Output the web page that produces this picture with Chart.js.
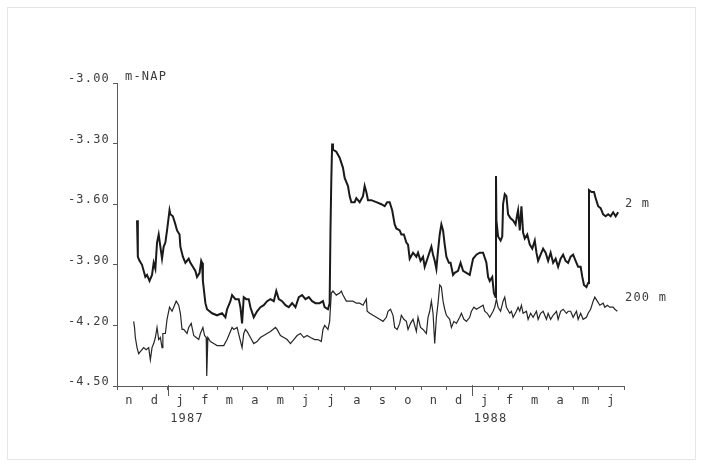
<!DOCTYPE html>
<html>
<head>
<meta charset="utf-8">
<script src="https://cdn.jsdelivr.net/npm/chart.js@4/dist/chart.umd.min.js"></script>
<style>
  html, body { margin: 0; padding: 0; background: #ffffff; }
  #wrap { position: relative; width: 705px; height: 469px; }
  #frame { position: absolute; left: 7px; top: 7px; width: 689px; height: 453px; border: 1px solid #e6e6e6; box-sizing: border-box; pointer-events: none; }
  canvas { position: absolute; left: 0; top: 0; }
</style>
</head>
<body>
<div id="wrap">
  <canvas id="c" width="705" height="469"></canvas>
  <div id="frame"></div>
</div>
<script>
// ---- data: day number counted from 1 Nov 1986, water level in m-NAP ----
const monthLabels = ['n','d','j','f','m','a','m','j','j','a','s','o','n','d','j','f','m','a','m','j'];
const monthStarts = [0,30,61,92,120,151,181,212,242,273,304,334,365,395,426,457,486,517,547,578,608];
const yearStarts = [61,426];
const yearLabels = ['1987','1988'];
const yearLabelDays = [84,448];
const yTicks = [-4.5,-4.2,-3.9,-3.6,-3.3,-3.0];
const unitLabel = 'm-NAP';
const seriesNames = ['2 m','200 m'];
const seriesLabelLevels = [-3.60,-4.065];

const days2m = [24,25,27,30,34,36,39,42,44,46,48,50,52,54,56,58,60,63,64,67,70,72,75,76,79,82,84,86,88,91,94,96,99,101,102,103,106,108,114,120,126,130,132,136,138,142,146,148,150,152,155,158,160,164,168,172,176,180,184,188,191,194,198,202,206,210,214,218,222,226,230,234,238,243,247,249,253,255,256,257,258,259,263,267,271,273,277,279,281,285,287,291,295,297,299,301,305,311,317,321,324,327,330,333,335,339,341,344,347,349,351,355,359,361,364,367,369,373,377,379,381,383,385,387,389,391,393,395,398,400,403,405,409,412,415,419,423,425,427,431,435,439,443,445,447,450,452,454,454.5,455,457,460,462,463,465,467,469,472,475,478,480,481,483,485,487,489,492,495,498,501,503,505,508,511,514,517,520,523,526,529,532,535,538,541,544,547,550,553,556,558,560,563,565,566,569,572,574,577,580,583,586,589,592,595,598,601];
const level2m = [-3.68,-3.86,-3.88,-3.90,-3.96,-3.95,-3.98,-3.95,-3.89,-3.92,-3.79,-3.75,-3.81,-3.87,-3.81,-3.79,-3.73,-3.63,-3.65,-3.66,-3.70,-3.73,-3.75,-3.81,-3.86,-3.89,-3.88,-3.87,-3.89,-3.91,-3.93,-3.96,-3.94,-3.88,-3.89,-3.98,-4.09,-4.12,-4.14,-4.15,-4.14,-4.16,-4.12,-4.08,-4.05,-4.07,-4.07,-4.11,-4.19,-4.06,-4.07,-4.07,-4.11,-4.16,-4.13,-4.11,-4.10,-4.08,-4.07,-4.08,-4.03,-4.07,-4.08,-4.10,-4.11,-4.09,-4.11,-4.06,-4.05,-4.07,-4.06,-4.08,-4.09,-4.09,-4.08,-4.11,-4.12,-4.09,-3.73,-3.48,-3.30,-3.33,-3.34,-3.37,-3.42,-3.47,-3.51,-3.56,-3.59,-3.59,-3.57,-3.59,-3.56,-3.51,-3.54,-3.58,-3.58,-3.59,-3.60,-3.61,-3.59,-3.59,-3.63,-3.70,-3.72,-3.73,-3.75,-3.75,-3.79,-3.80,-3.87,-3.84,-3.86,-3.84,-3.88,-3.86,-3.91,-3.86,-3.81,-3.85,-3.88,-3.92,-3.83,-3.75,-3.70,-3.73,-3.80,-3.86,-3.89,-3.89,-3.95,-3.94,-3.93,-3.89,-3.93,-3.94,-3.95,-3.91,-3.87,-3.85,-3.84,-3.84,-3.89,-3.96,-3.98,-3.96,-4.04,-4.06,-3.46,-3.68,-3.76,-3.78,-3.76,-3.60,-3.55,-3.56,-3.65,-3.67,-3.68,-3.70,-3.65,-3.63,-3.73,-3.61,-3.74,-3.77,-3.75,-3.80,-3.82,-3.78,-3.84,-3.88,-3.85,-3.82,-3.84,-3.88,-3.84,-3.89,-3.87,-3.91,-3.87,-3.85,-3.88,-3.89,-3.86,-3.85,-3.88,-3.91,-3.91,-3.96,-4.00,-4.01,-3.99,-3.53,-3.54,-3.54,-3.57,-3.61,-3.62,-3.65,-3.66,-3.65,-3.66,-3.64,-3.66,-3.64];

const days200m = [20,21,22,24,26,28,32,35,38,40,42,44,46,48,50,52,54,55,58,60,63,66,68,71,74,76,78,80,84,86,89,92,95,98,100,103,105,107,107.6,109,112,116,120,124,128,132,135,138,140,144,147,150,152,154,156,160,164,168,172,176,180,184,187,190,192,196,200,204,208,212,216,220,224,228,232,237,241,245,247,249,253,255,257,259,263,267,269,271,275,279,283,287,291,295,299,300,303,307,311,315,319,323,325,328,331,333,336,339,341,344,347,349,352,355,359,361,364,367,371,373,375,377,379,381,383,385,387,389,391,393,395,399,401,404,407,411,413,416,419,423,425,428,431,435,439,441,444,447,451,453,455,457,460,463,465,467,471,473,475,479,481,483,485,487,491,493,496,499,503,505,508,511,515,517,520,523,527,529,532,535,539,541,544,547,551,553,556,559,563,565,568,571,573,576,579,583,585,588,591,595,597,600];
const level200m = [-4.18,-4.21,-4.26,-4.31,-4.34,-4.33,-4.31,-4.32,-4.31,-4.37,-4.31,-4.29,-4.26,-4.21,-4.27,-4.26,-4.31,-4.24,-4.24,-4.17,-4.11,-4.13,-4.11,-4.08,-4.10,-4.14,-4.22,-4.22,-4.24,-4.21,-4.19,-4.25,-4.26,-4.27,-4.24,-4.21,-4.25,-4.26,-4.45,-4.26,-4.28,-4.29,-4.30,-4.30,-4.30,-4.27,-4.24,-4.21,-4.22,-4.21,-4.26,-4.31,-4.24,-4.22,-4.23,-4.26,-4.29,-4.28,-4.26,-4.25,-4.24,-4.23,-4.22,-4.21,-4.22,-4.25,-4.26,-4.27,-4.29,-4.27,-4.25,-4.24,-4.26,-4.25,-4.26,-4.27,-4.27,-4.28,-4.22,-4.20,-4.22,-4.18,-4.04,-4.03,-4.05,-4.04,-4.03,-4.05,-4.08,-4.08,-4.08,-4.09,-4.09,-4.10,-4.07,-4.13,-4.14,-4.15,-4.16,-4.17,-4.18,-4.16,-4.13,-4.12,-4.15,-4.21,-4.22,-4.19,-4.15,-4.17,-4.18,-4.22,-4.19,-4.17,-4.23,-4.16,-4.21,-4.22,-4.24,-4.16,-4.13,-4.08,-4.14,-4.29,-4.16,-4.09,-4.00,-4.01,-4.08,-4.12,-4.15,-4.17,-4.21,-4.18,-4.19,-4.16,-4.14,-4.17,-4.18,-4.16,-4.13,-4.11,-4.12,-4.11,-4.10,-4.13,-4.14,-4.16,-4.13,-4.11,-4.07,-4.11,-4.13,-4.08,-4.06,-4.11,-4.14,-4.13,-4.16,-4.13,-4.11,-4.13,-4.10,-4.14,-4.13,-4.17,-4.14,-4.16,-4.13,-4.17,-4.14,-4.13,-4.17,-4.14,-4.17,-4.15,-4.13,-4.17,-4.13,-4.12,-4.14,-4.13,-4.13,-4.16,-4.13,-4.17,-4.14,-4.17,-4.16,-4.14,-4.12,-4.08,-4.06,-4.08,-4.10,-4.09,-4.11,-4.10,-4.11,-4.11,-4.12,-4.13];

// ---- styles ----
const AXIS = '#5a5a5a';
const TEXT = '#3c3c3c';
const LINE = '#1a1a1a';
const FONT = { family: '"DejaVu Sans Mono", "Liberation Mono", monospace', size: 12 };
const SPACING = '1.2px';

const dayMin = monthStarts[0];
const dayMax = monthStarts[monthStarts.length - 1];
const monthMids = monthLabels.map((_, i) => (monthStarts[i] + monthStarts[i + 1]) / 2);

const spacingPlugin = {
  id: 'spacing',
  beforeLayout(chart) { chart.ctx.letterSpacing = SPACING; },
  beforeDraw(chart) { chart.ctx.letterSpacing = SPACING; }
};

const annotPlugin = {
  id: 'annot',
  afterDraw(chart) {
    const { ctx, scales: { x, y } } = chart;
    ctx.save();
    ctx.letterSpacing = SPACING;
    ctx.font = FONT.size + 'px ' + FONT.family;
    ctx.fillStyle = TEXT;
    ctx.textBaseline = 'middle';
    ctx.textAlign = 'left';
    ctx.fillText(unitLabel, x.left + 8, y.getPixelForValue(yTicks[yTicks.length - 1]) - 6);
    seriesNames.forEach((n, i) => ctx.fillText(n, x.right + 1, y.getPixelForValue(seriesLabelLevels[i])));
    ctx.strokeStyle = AXIS;
    ctx.lineWidth = 1;
    yearStarts.forEach(d => {
      const px = Math.round(x.getPixelForValue(d)) + 0.5;
      ctx.beginPath();
      ctx.moveTo(px, y.bottom - 1);
      ctx.lineTo(px, y.bottom + 10);
      ctx.stroke();
    });
    ctx.restore();
  }
};

const toPts = (d, v) => d.map((dd, i) => ({ x: dd, y: v[i] }));

new Chart(document.getElementById('c'), {
  type: 'line',
  data: {
    datasets: [
      { label: seriesNames[0], data: toPts(days2m, level2m), borderColor: LINE, borderWidth: 2, pointRadius: 0, tension: 0, fill: false },
      { label: seriesNames[1], data: toPts(days200m, level200m), borderColor: '#262626', borderWidth: 1.2, pointRadius: 0, tension: 0, fill: false }
    ]
  },
  options: {
    responsive: false,
    animation: false,
    events: [],
    layout: { padding: { top: 83, right: 81, left: 0, bottom: 41 } },
    plugins: { legend: { display: false }, tooltip: { enabled: false } },
    scales: {
      x: {
        type: 'linear', position: 'bottom', min: dayMin, max: dayMax, weight: 0,
        afterBuildTicks: (ax) => { ax.ticks = monthStarts.map(v => ({ value: v })); },
        afterFit: (ax) => { ax.height = 4; },
        ticks: { autoSkip: false, maxRotation: 0, callback: () => '' },
        grid: { drawOnChartArea: false, drawTicks: true, tickLength: 4, color: AXIS, tickColor: AXIS },
        border: { display: true, color: AXIS, width: 1 }
      },
      xm: {
        type: 'linear', position: 'bottom', min: dayMin, max: dayMax, weight: 1,
        afterBuildTicks: (ax) => { ax.ticks = monthMids.map(v => ({ value: v })); },
        afterFit: (ax) => { ax.height = 18; },
        ticks: { autoSkip: false, maxRotation: 0, padding: 4, color: TEXT, font: FONT,
                 callback: (v, i) => monthLabels[i] },
        grid: { display: false, drawTicks: false },
        border: { display: false }
      },
      xy: {
        type: 'linear', position: 'bottom', min: dayMin, max: dayMax, weight: 2,
        afterBuildTicks: (ax) => { ax.ticks = yearLabelDays.map(v => ({ value: v })); },
        afterFit: (ax) => { ax.height = 20; },
        ticks: { autoSkip: false, maxRotation: 0, padding: 4, color: TEXT, font: FONT,
                 callback: (v, i) => yearLabels[i] },
        grid: { display: false, drawTicks: false },
        border: { display: false }
      },
      y: {
        type: 'linear', position: 'left', min: yTicks[0], max: yTicks[yTicks.length - 1],
        afterBuildTicks: (ax) => { ax.ticks = yTicks.map(v => ({ value: v })); },
        afterFit: (ax) => { ax.width = 117; },
        ticks: { autoSkip: false, padding: 3, labelOffset: -4, color: TEXT, font: FONT,
                 callback: (v) => Number(v).toFixed(2) },
        grid: { drawOnChartArea: false, drawTicks: true, tickLength: 4, color: AXIS, tickColor: AXIS },
        border: { display: true, color: AXIS, width: 1 }
      }
    }
  },
  plugins: [spacingPlugin, annotPlugin]
});
</script>
</body>
</html>
